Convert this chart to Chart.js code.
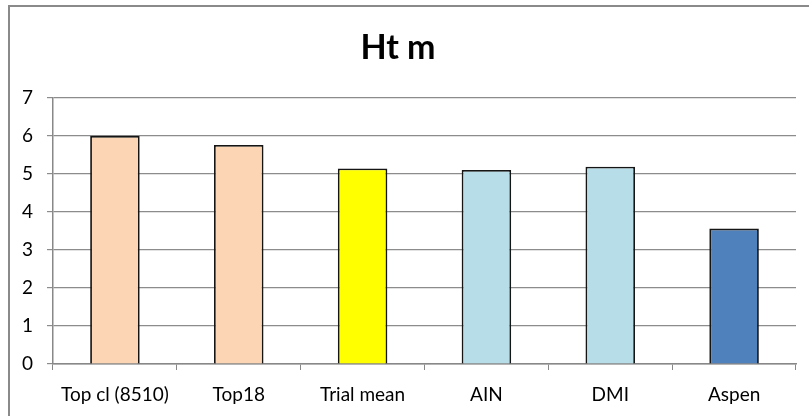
<!DOCTYPE html>
<html>
<head>
<meta charset="utf-8">
<script src="https://cdn.jsdelivr.net/npm/chart.js@4/dist/chart.umd.min.js"></script>
<style>
  html, body { margin: 0; padding: 0; background: #fff; overflow: hidden; }
  #wrap { position: relative; width: 809px; height: 416px; }
  #frame { position: absolute; left: 8px; top: 5px; width: 830px; height: 440px; border: 2px solid #8a8a8a; }
  canvas { position: absolute; left: 0; top: 0; }
</style>
</head>
<body>
<div id="wrap">
  <div id="frame"></div>
  <canvas id="chart" width="809" height="416"></canvas>
</div>
<script>
// Ht m by group
const categories = ['Top cl (8510)', 'Top18', 'Trial mean', 'AIN', 'DMI', 'Aspen'];
const heights = [6.0, 5.76, 5.14, 5.1, 5.19, 3.56];
const barColors = ['#FCD5B5', '#FCD5B5', '#FFFF00', '#B7DEE8', '#B7DEE8', '#4F81BD'];
const yTicks = [0, 1, 2, 3, 4, 5, 6, 7];

const font = { family: 'Lato, "Open Sans", sans-serif', size: 19, lineHeight: 1.2 };

new Chart(document.getElementById('chart'), {
    type: 'bar',
    data: {
        labels: categories,
        datasets: [{
            data: heights,
            backgroundColor: barColors,
            borderColor: '#151515',
            borderWidth: 1.8,
            barPercentage: 0.4,
            categoryPercentage: 1,
        }],
    },
    options: {
        responsive: false,
        animation: false,
        layout: { padding: { left: 0, right: 13, top: 0, bottom: 0 } },
        plugins: {
            legend: { display: false },
            tooltip: { enabled: false },
            title: {
                display: true,
                text: 'Ht m',
                color: '#000',
                font: { family: 'Lato, "Open Sans", sans-serif', size: 34, weight: 'bold', lineHeight: 1.2 },
                padding: { top: 28, bottom: 29 },
            },
        },
        scales: {
            x: {
                grid: { display: true, drawOnChartArea: false, drawTicks: true, tickLength: 6, offset: true, color: '#888' },
                border: { color: '#888', width: 1.5 },
                ticks: { color: '#000', font, padding: 13, maxRotation: 0 },
                afterFit: s => { s.height = 52; },
            },
            y: {
                min: 0,
                max: 7,
                afterBuildTicks: s => { s.ticks = yTicks.map(v => ({ value: v })); },
                grid: { color: '#8c8c8c', lineWidth: 1.2, tickLength: 6 },
                border: { color: '#888', width: 1.5 },
                ticks: { color: '#000', font, padding: 14 },
                afterFit: s => { s.width = 53; },
            },
        },
    },
});
</script>
</body>
</html>
